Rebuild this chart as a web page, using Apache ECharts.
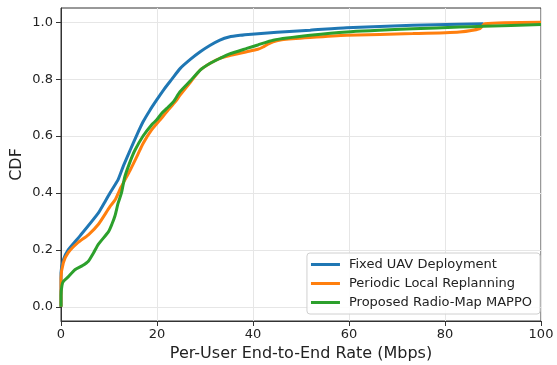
<!DOCTYPE html>
<html>
<head>
<meta charset="utf-8">
<script src="https://cdn.jsdelivr.net/npm/echarts@6/dist/echarts.min.js"></script>
<style>
html,body{margin:0;padding:0;background:#fff;}
#main{width:557px;height:365px;}
</style>
</head>
<body>
<div id="main"></div>
<script>
// rates (Mbps) and CDF values
var rateFixed=[0,0,0.5,1.5,4,7.8,9.2,10.2,11.9,13,14.4,15.7,17.1,18.5,19.9,21.5,23.1,24.8,27,29,31,33.1,35,37.3,39.7,45,51.9,59.5,73.3,88];
var cdfFixed=[0,0.12,0.165,0.2,0.25,0.33,0.37,0.40,0.447,0.495,0.55,0.60,0.65,0.69,0.726,0.765,0.80,0.837,0.87,0.896,0.918,0.937,0.948,0.954,0.958,0.965,0.972,0.981,0.989,0.995];

var rateReplan=[0,0,0.5,1.5,3.5,5.7,7.8,10.2,11.25,12.5,14.4,16,17.1,18.8,20.6,22.5,24.1,24.8,27,29,31,33.1,35,38.7,41,42.1,43,44.2,46,51.9,59.5,73.3,83,87.3,88.3,100];
var cdfReplan=[0,0.1,0.155,0.19,0.225,0.253,0.29,0.352,0.375,0.42,0.48,0.535,0.574,0.62,0.656,0.695,0.726,0.744,0.79,0.832,0.855,0.873,0.882,0.896,0.905,0.913,0.922,0.931,0.938,0.946,0.954,0.96,0.966,0.978,0.995,1.0];

var rateMappo=[0,0,0.2,0.5,1.5,2.9,4.5,5.7,6.8,7.8,9.9,10.6,11.25,11.9,12.6,13.3,14.4,15.4,17.1,18.9,19.9,21,22.4,23.4,24.8,27,29,31,33.1,35,38.7,41,44.2,51.9,59.5,73.3,83,88,100];
var cdfMappo=[0,0.04,0.075,0.089,0.105,0.13,0.145,0.16,0.19,0.22,0.264,0.29,0.32,0.364,0.40,0.457,0.51,0.55,0.60,0.64,0.656,0.68,0.703,0.72,0.756,0.795,0.832,0.855,0.873,0.888,0.908,0.92,0.937,0.954,0.966,0.977,0.983,0.986,0.992];

var seriesNames=['Fixed UAV Deployment','Periodic Local Replanning','Proposed Radio-Map MAPPO'];
var seriesColors=['#1f77b4','#ff7f0e','#2ca02c'];
var xTicks=[0,20,40,60,80,100];
var yTicks=[0,0.2,0.4,0.6,0.8,1.0];

var pairs=function(xs,ys){
	var out=[];
	for(var i=0;i<xs.length;i++){
		out.push([xs[i],ys[i]]);
	}
	return out;
}
var allX=[rateFixed,rateReplan,rateMappo];
var allY=[cdfFixed,cdfReplan,cdfMappo];

var myChart=echarts.init(document.getElementById('main'));
var series=[];
for(var i=0;i<seriesNames.length;i++){
	series.push({
		name:seriesNames[i],
		type:'line',
		data:pairs(allX[i],allY[i]),
		smooth:0.2,
		showSymbol:false,
		lineStyle:{width:3,color:seriesColors[i]},
		itemStyle:{color:seriesColors[i]},
		z:2+i
	});
}
var font='DejaVu Sans';
var option={
	animation:false,
	backgroundColor:'#fff',
	grid:{left:61,right:16,top:8,bottom:44,outerBoundsMode:'none',containLabel:false,
		show:true,borderColor:'#333',borderWidth:1,backgroundColor:'transparent'},
	legend:{
		orient:'vertical',
		right:17,
		bottom:51,
		data:seriesNames,
		icon:'rect',
		itemWidth:29,
		itemHeight:3,
		itemGap:6,
		padding:[5,8,5,4],
		borderColor:'#d0d0d0',
		borderWidth:1,
		borderRadius:3,
		backgroundColor:'rgba(255,255,255,0.85)',
		textStyle:{fontFamily:font,fontSize:13,color:'#222',padding:[0,0,0,4]}
	},
	xAxis:{
		type:'value',
		min:0,max:100,interval:20,
		name:'Per-User End-to-End Rate (Mbps)',
		nameLocation:'middle',
		nameGap:25,
		nameTextStyle:{fontFamily:font,fontSize:16,color:'#222'},
		axisLine:{show:true,onZero:false,lineStyle:{color:'#333',width:1}},
		axisTick:{show:true,length:5,lineStyle:{color:'#333'}},
		axisLabel:{fontFamily:font,fontSize:13,color:'#222',margin:7},
		splitLine:{show:true,lineStyle:{color:'#e6e6e6',width:1}}
	},
	yAxis:{
		type:'value',
		min:-0.05,max:1.05,
		name:'CDF',
		nameLocation:'middle',
		nameGap:36,
		nameMoveOverlap:false,
		nameTextStyle:{fontFamily:font,fontSize:16,color:'#222'},
		axisLine:{show:true,onZero:false,lineStyle:{color:'#333',width:1}},
		axisTick:{show:true,length:5,lineStyle:{color:'#333'},customValues:yTicks},
		axisLabel:{fontFamily:font,fontSize:13,color:'#222',margin:8,customValues:yTicks,
			formatter:function(v){return v.toFixed(1);}},
		splitLine:{show:true,lineStyle:{color:'#e6e6e6',width:1}}
	},
	series:series
};
myChart.setOption(option);
</script>
</body>
</html>
